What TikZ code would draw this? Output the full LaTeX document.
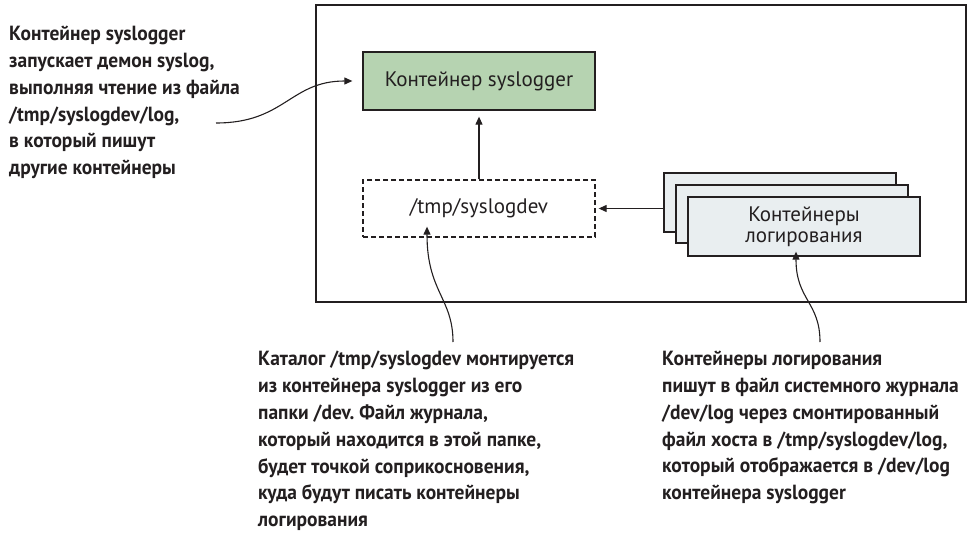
\documentclass[tikz,border=0pt]{standalone}
\usepackage{fontspec}
\setmainfont{PT Sans}
\newfontfamily\notefont[FakeStretch=0.95]{PT Sans}
\usetikzlibrary{arrows.meta}
\frenchspacing

\definecolor{inkgray}{HTML}{231F20}
\definecolor{boxgreen}{HTML}{B6D3B1}
\definecolor{boxgray}{HTML}{E9EEF0}

\tikzset{
  box/.style={draw=inkgray, line width=1.3pt, minimum width=232pt, minimum height=58pt,
              inner sep=0pt, align=center, text=inkgray, font=\fontsize{21}{21}\selectfont},
  note/.style={anchor=north west, inner sep=0pt, align=left, text=inkgray,
               font=\notefont\fontsize{20.5}{26.8}\selectfont\bfseries},
  link/.style={draw=inkgray, line width=1.1pt, -{Triangle[length=8pt,width=7pt]}},
}

\begin{document}
\begin{tikzpicture}[x=1pt, y=-1pt, line cap=butt, line join=miter]

  %% ════ внешняя рамка ════
  \draw[draw=inkgray, line width=1.5pt] (316,5) rectangle (966,302);

  %% ════ блоки ════
  \node[box, fill=boxgreen] (sysbox) at (479,81) {Контейнер syslogger};
  \node[box, dash pattern=on 5pt off 3pt, minimum height=57pt] (devdir) at (479,208.5) {/tmp/syslogdev};

  % стопка контейнеров логирования: сзади вперёд
  \node[box, fill=boxgray, minimum height=59pt] (logback) at (780,202.5) {};
  \node[box, fill=boxgray, minimum height=58pt] (logmid)  at (792,214)   {};
  \node[box, fill=boxgray, minimum height=59pt] (logfront) at (804,226.5) {Контейнеры\\логирования};

  %% ════ стрелки внутри рамки ════
  \draw[link, shorten >=6pt] (devdir.north) -- (sysbox.south);
  \draw[link, shorten >=3pt] (devdir.east -| logback.west) -- (devdir.east);

  %% ════ пояснения ════
  \node[note] (notesys) at (9,26) {Контейнер syslogger\\запускает демон syslog,\\выполняя чтение из файла\\/tmp/syslogdev/log,\\в который пишут\\другие контейнеры};
  \node[note] (notedir) at (258,351) {Каталог /tmp/syslogdev монтируется\\из контейнера syslogger из его\\папки /dev. Файл журнала,\\который находится в этой папке,\\будет точкой соприкосновения,\\куда будут писать контейнеры\\логирования};
  \node[note] (notelog) at (662,351) {Контейнеры логирования\\пишут в файл системного журнала\\/dev/log через смонтированный\\файл хоста в /tmp/syslogdev/log,\\который отображается в /dev/log\\контейнера syslogger};

  % свободные концы выносок
  \coordinate (tailsys) at (216,123);
  \coordinate (taildir) at (453,342);
  \coordinate (taillog) at (820,342);

  %% ════ выноски ════
  \draw[link] (tailsys) .. controls (285,123) and (290,81) .. ([xshift=-10pt]sysbox.west);
  \draw[link] (taildir) .. controls (453,298) and (427,292) .. ([xshift=-52pt,yshift=11pt]devdir.south);
  \draw[link] (taillog) .. controls (820,302) and (796,300) .. ([xshift=-8pt,yshift=5pt]logfront.south);

  % холст 972x535
  \pgfresetboundingbox
  \path[use as bounding box] (0,0) rectangle (972,535);
\end{tikzpicture}
\end{document}
